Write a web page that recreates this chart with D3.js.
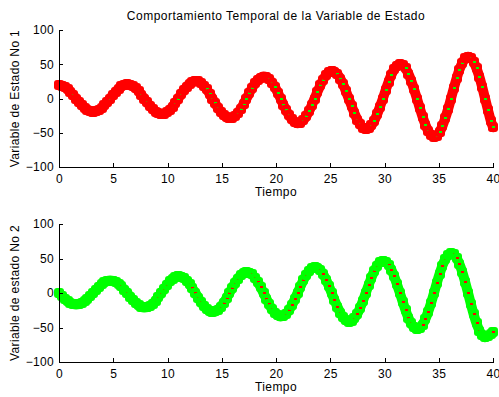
<!DOCTYPE html>
<html>
<head>
<meta charset="utf-8">
<script src="https://cdn.jsdelivr.net/npm/d3@7/dist/d3.min.js"></script>
<style>
    body { margin: 0; background: #fff; }
    text { font-family: "Liberation Sans", Arial, sans-serif; fill: #000; }
</style>
</head>
<body>
<svg id="chart"></svg>
<script>
// time samples (s)
const tiempo = [
    0, 0.26, 0.52, 0.79, 1.05, 1.31, 1.57, 1.83, 2.09, 2.36, 2.62, 2.88, 3.14, 3.40, 3.67, 3.93, 4.19, 4.45, 4.71, 4.97, 5.24, 5.50, 5.76, 6.02,
    6.28, 6.55, 6.81, 7.07, 7.33, 7.59, 7.85, 8.12, 8.38, 8.64, 8.90, 9.16, 9.42, 9.69, 9.95, 10.21, 10.47, 10.73, 11.00, 11.26, 11.52, 11.78, 12.04, 12.30,
    12.57, 12.83, 13.09, 13.35, 13.61, 13.88, 14.14, 14.40, 14.66, 14.92, 15.18, 15.45, 15.71, 15.97, 16.23, 16.49, 16.76, 17.02, 17.28, 17.54, 17.80, 18.06, 18.33, 18.59,
    18.85, 19.11, 19.37, 19.63, 19.90, 20.16, 20.42, 20.68, 20.94, 21.21, 21.47, 21.73, 21.99, 22.25, 22.51, 22.78, 23.04, 23.30, 23.56, 23.82, 24.09, 24.35, 24.61, 24.87,
    25.13, 25.39, 25.66, 25.92, 26.18, 26.44, 26.70, 26.97, 27.23, 27.49, 27.75, 28.01, 28.27, 28.54, 28.80, 29.06, 29.32, 29.58, 29.85, 30.11, 30.37, 30.63, 30.89, 31.15,
    31.42, 31.68, 31.94, 32.20, 32.46, 32.72, 32.99, 33.25, 33.51, 33.77, 34.03, 34.30, 34.56, 34.82, 35.08, 35.34, 35.60, 35.87, 36.13, 36.39, 36.65, 36.91, 37.18, 37.44,
    37.70, 37.96, 38.22, 38.48, 38.75, 39.01, 39.27, 39.53, 39.79, 40
];

// state variable 1
const estado1 = [
    19.5, 18.8, 16.9, 13.8, 9.8, 5.1, 0, -5.1, -9.8, -13.8, -16.9, -18.8, -19.5,
    -18.9, -17.0, -14.0, -9.9, -5.2, 0, 5.2, 10.1, 14.3, 17.6, 19.7, 20.5,
    20.0, 18.0, 14.8, 10.6, 5.5, 0, -5.6, -10.9, -15.6, -19.2, -21.6, -22.5,
    -22.0, -19.9, -16.4, -11.8, -6.2, 0, 6.3, 12.3, 17.5, 21.7, 24.4, 25.5,
    24.9, 22.5, 18.6, 13.3, 6.9, 0, -7.1, -13.8, -19.6, -24.2, -27.3, -28.5,
    -27.8, -25.2, -20.8, -14.8, -7.8, 0, 7.9, 15.4, 22.0, 27.2, 30.6, 32,
    31.2, 28.3, 23.3, 16.7, 8.7, 0, -8.9, -17.3, -24.7, -30.6, -34.5, -36,
    -35.1, -31.8, -26.2, -18.7, -9.8, 0, 9.9, 19.3, 27.6, 34.1, 38.3, 40,
    39.0, 35.3, 29.1, 20.8, 10.8, 0, -11.0, -21.5, -30.7, -37.9, -42.6, -44.5,
    -43.4, -39.3, -32.4, -23.2, -12.1, 0, 12.4, 24.1, 34.4, 42.5, 47.9, 50,
    48.7, 44.1, 36.3, 25.9, 13.5, 0, -13.8, -26.8, -38.3, -47.3, -53.2, -55.5,
    -54.1, -48.9, -40.2, -28.7, -15.0, 0, 15.2, 29.6, 42.2, 52.0, 58.5, 61,
    59.3, 53.5, 44.0, 31.3, 16.3, 0, -16.6, -32.2, -42
];

// state variable 2
const estado2 = [
    0, -4.3, -8.3, -11.7, -14.3, -15.9, -16.5,
    -16.1, -14.5, -11.9, -8.5, -4.4, 0, 4.5, 8.8, 12.5, 15.4, 17.3, 18,
    17.6, 16.0, 13.3, 9.5, 5.0, 0, -5.1, -10.0, -14.3, -17.8, -20.0, -21,
    -20.6, -18.7, -15.5, -11.1, -5.8, 0, 6.0, 11.7, 16.7, 20.7, 23.4, 24.5,
    23.9, 21.7, 17.9, 12.8, 6.7, 0, -6.8, -13.3, -18.9, -23.4, -26.3, -27.5,
    -26.8, -24.2, -20.0, -14.3, -7.4, 0, 7.6, 14.8, 21.0, 26.0, 29.2, 30.5,
    29.7, 26.9, 22.2, 15.8, 8.3, 0, -8.4, -16.4, -23.4, -28.9, -32.6, -34,
    -33.1, -29.9, -24.7, -17.6, -9.2, 0, 9.3, 18.2, 25.9, 32.0, 35.9, 37.5,
    36.5, 33.1, 27.2, 19.4, 10.1, 0, -10.3, -20.1, -28.6, -35.4, -39.8, -41.5,
    -40.5, -36.7, -30.2, -21.6, -11.3, 0, 11.5, 22.4, 32.0, 39.5, 44.5, 46.5,
    45.4, 41.1, 33.9, 24.2, 12.6, 0, -12.9, -25.1, -35.8, -44.2, -49.8, -52,
    -50.7, -45.8, -37.7, -26.9, -14.1, 0, 14.3, 27.8, 39.7, 49.0, 55.1, 57.5,
    56.1, 50.7, 41.8, 29.8, 15.6, 0, -15.9, -30.9, -44.1, -54.5, -61.3, -64,
    -62.5, -59.5, -57
];

const xTicks = [0, 5, 10, 15, 20, 25, 30, 35, 40];
const yTicks = [-100, -50, 0, 50, 100];

const titulo = "Comportamiento Temporal de la Variable de Estado";

// canvas
const canvWidth = 499;
const canvHeight = 397;

const svg = d3.select("#chart")
    .attr("width", canvWidth)
    .attr("height", canvHeight);

// shared x scale
const x = d3.scaleLinear().domain([0, 40]).range([59, 493]);

// one subplot: axes + marker band
function subplot(values, top, bottom, edge, face, ylabel) {
    const y = d3.scaleLinear().domain([-100, 100]).range([bottom, top]);
    const data = tiempo.map(function (t, i) { return { t: t, v: values[i] }; });

    const g = svg.append("g");

    // thick line under the markers so the band stays closed
    g.append("path")
        .datum(data)
        .attr("fill", "none")
        .attr("stroke", edge)
        .attr("stroke-width", 10)
        .attr("stroke-linejoin", "round")
        .attr("stroke-linecap", "round")
        .attr("d", d3.line()
            .curve(d3.curveCatmullRom)
            .x(function (d) { return x(d.t); })
            .y(function (d) { return y(d.v); }));

    // square markers, edge colour then face colour, in time order
    const m = g.selectAll(".mk")
        .data(data)
        .enter().append("g")
        .attr("class", "mk")
        .attr("transform", function (d) {
            return "translate(" + Math.round(x(d.t)) + "," + Math.round(y(d.v)) + ")";
        });
    m.append("rect")
        .attr("x", -5).attr("y", -5)
        .attr("width", 10).attr("height", 10)
        .attr("rx", 3)
        .attr("fill", edge);
    m.append("rect")
        .attr("x", -1).attr("y", -1)
        .attr("width", 3).attr("height", 2)
        .attr("shape-rendering", "crispEdges")
        .attr("fill", face);

    // y axis, ticks inward
    const ya = g.append("g")
        .attr("transform", "translate(" + x(0) + ",0)")
        .call(d3.axisLeft(y).tickValues(yTicks).tickSizeInner(-4).tickSizeOuter(0).tickPadding(5));

    // x axis, ticks inward
    const xa = g.append("g")
        .attr("transform", "translate(0," + bottom + ")")
        .call(d3.axisBottom(x).tickValues(xTicks).tickSizeInner(-4).tickSizeOuter(0).tickPadding(5));

    [ya, xa].forEach(function (a) {
        a.attr("font-family", null).attr("font-size", null);
        a.selectAll("text").style("font-size", "12px").style("letter-spacing", "0.3px");
        a.selectAll("path, line").attr("stroke", "#000").attr("shape-rendering", "crispEdges");
    });
    xa.selectAll("text").attr("dy", "0.95em");

    // axis labels
    g.append("text")
        .attr("x", (x(0) + x(40)) / 2)
        .attr("y", bottom + 29)
        .attr("text-anchor", "middle")
        .style("font-size", "12px")
        .style("letter-spacing", "0.4px")
        .text("Tiempo");

    g.append("text")
        .attr("transform", "translate(19," + (top + bottom) / 2 + ") rotate(-90)")
        .attr("text-anchor", "middle")
        .style("font-size", "12px")
        .style("letter-spacing", "0.35px")
        .text(ylabel);
}

subplot(estado1, 30, 167, "#ff0000", "#00ff00", "Variable de Estado No 1");
subplot(estado2, 224, 362, "#00ff00", "#ff0000", "Variable de estado No 2");

// title
svg.append("text")
    .attr("x", 276)
    .attr("y", 20)
    .attr("text-anchor", "middle")
    .style("font-size", "12px")
    .style("letter-spacing", "0.5px")
    .text(titulo);
</script>
</body>
</html>
